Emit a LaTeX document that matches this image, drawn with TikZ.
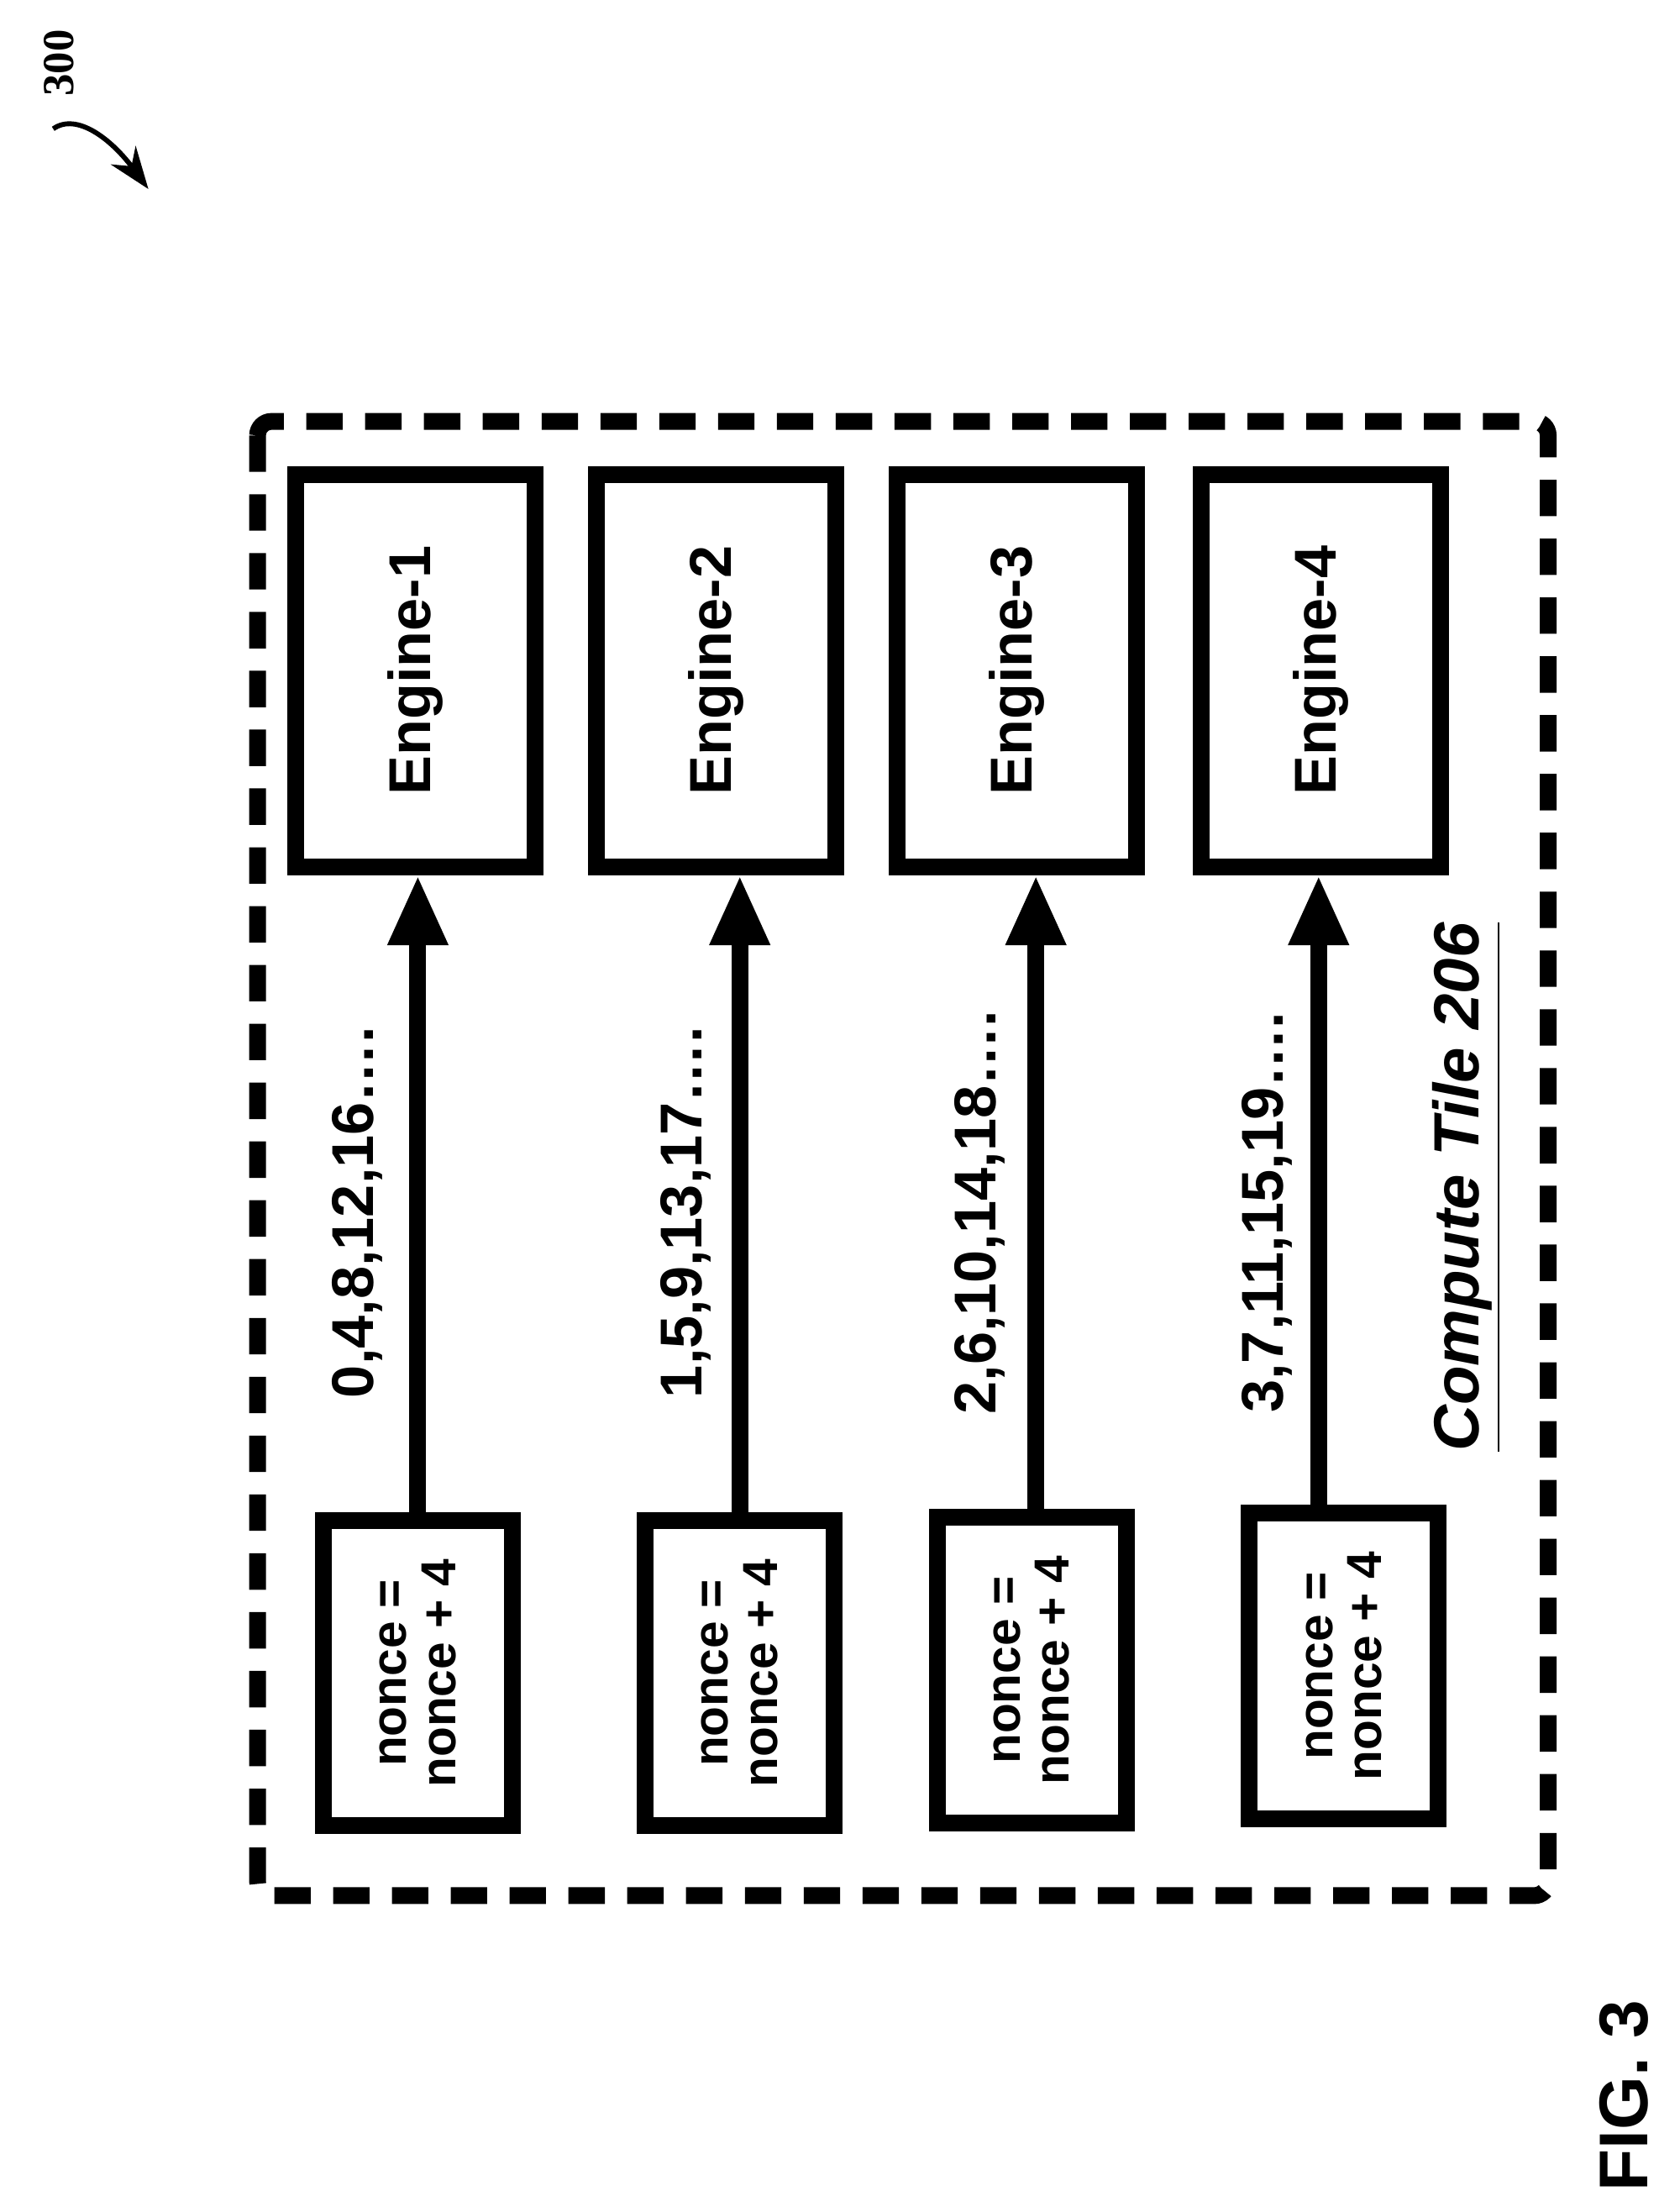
\documentclass[tikz,border=0pt]{standalone}
\usepackage{fontspec}
\setmainfont{Liberation Sans}
\newfontfamily\refserif{Liberation Serif}
\usetikzlibrary{arrows.meta}
\begin{document}
\begin{tikzpicture}[x=0.01cm,y=-0.01cm, line join=miter,
    enginebox/.style={draw, line width=0.12cm, minimum width=1.71cm, minimum height=2.80cm, inner sep=0pt, font=\fontsize{12}{14}\selectfont\bfseries},
    noncebox/.style={draw, line width=0.12cm, minimum width=1.35cm, minimum height=2.18cm, inner sep=0pt, font=\fontsize{10}{12}\selectfont\bfseries},
    seqlabel/.style={rotate=90, font=\fontsize{12}{14}\selectfont\bfseries},
    feed/.style={line width=0.12cm, -{Triangle[length=0.5cm,width=0.4cm]}}]
  \useasboundingbox (0,0) rectangle (1200,1565);

  % compute tile outline
  \draw[line width=0.12cm, dash pattern=on 0.26cm off 0.16cm, rounded corners=0.1cm] (184,301) rectangle (1106,1354);
  \node[rotate=90, font=\fontsize{13}{15}\selectfont\bfseries\itshape] (tile) at (1048,848) {\underline{Compute Tile 206}};

  % engines
  \node[enginebox] (e1) at (296.5,479) {\rotatebox{90}{Engine-1}};
  \node[enginebox] (e2) at (511.5,479) {\rotatebox{90}{Engine-2}};
  \node[enginebox] (e3) at (726.5,479) {\rotatebox{90}{Engine-3}};
  \node[enginebox] (e4) at (943.5,479) {\rotatebox{90}{Engine-4}};

  % nonce generators
  \node[noncebox] (n1) at (298.5,1195) {\rotatebox{90}{\shortstack{nonce =\\nonce + 4}}};
  \node[noncebox] (n2) at (528.5,1195) {\rotatebox{90}{\shortstack{nonce =\\nonce + 4}}};
  \node[noncebox] (n3) at (737,1193) {\rotatebox{90}{\shortstack{nonce =\\nonce + 4}}};
  \node[noncebox] (n4) at (960,1190) {\rotatebox{90}{\shortstack{nonce =\\nonce + 4}}};

  \draw[feed] (n1.north) -- (n1.north |- e1.south);
  \draw[feed] (n2.north) -- (n2.north |- e2.south);
  \draw[feed] ([xshift=0.03cm]n3.north) -- ([xshift=0.03cm]n3.north |- e3.south);
  \draw[feed] ([xshift=-0.18cm]n4.north) -- ([xshift=-0.18cm]n4.north |- e4.south);

  \node[seqlabel] (s1) at (255,866) {0,4,8,12,16\dots.};
  \node[seqlabel] (s2) at (490,866) {1,5,9,13,17\dots.};
  \node[seqlabel] (s3) at (700,866) {2,6,10,14,18\dots.};
  \node[seqlabel] (s4) at (905,866) {3,7,11,15,19\dots.};

  % figure labels
  \node[rotate=90, font=\fontsize{14}{16}\selectfont\bfseries] (fig) at (1160,1497) {FIG. 3};
  \node[rotate=90, font=\fontsize{9}{11}\selectfont\bfseries\refserif] (ref) at (42,45) {300};
  \coordinate (refend) at (106,135);
  \draw[line width=0.035cm, -{Stealth[length=0.3cm,width=0.22cm]}] (38,92) .. controls (55,80) and (80,100) .. (refend);
\end{tikzpicture}
\end{document}
